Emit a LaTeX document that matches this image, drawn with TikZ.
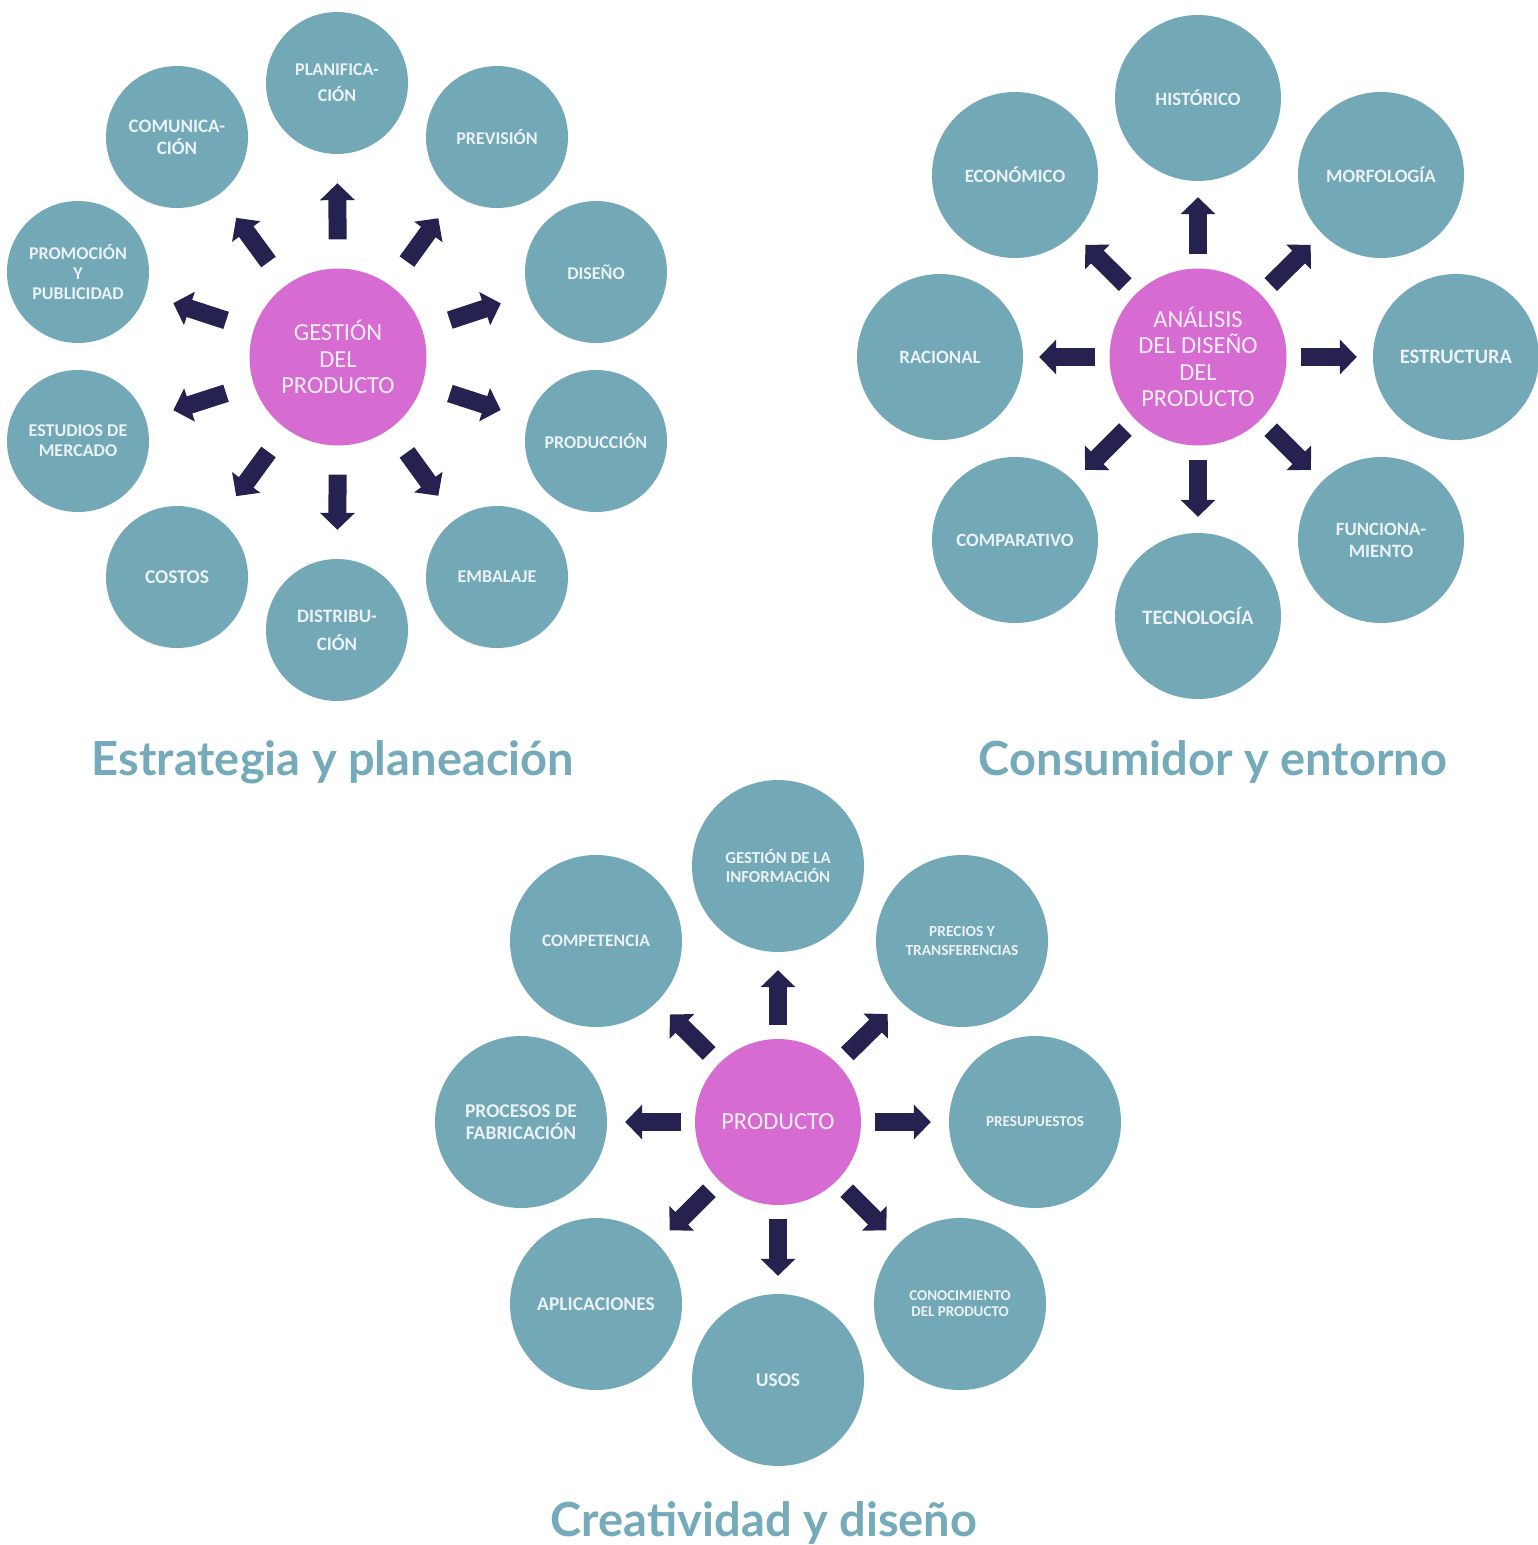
\documentclass[tikz,border=0pt]{standalone}
\usepackage{fontspec}
\setmainfont{Carlito}
\newfontfamily\titlefont{Lato}
\usetikzlibrary{arrows.meta}
\definecolor{tealc}{HTML}{73A8B7}
\definecolor{magc}{HTML}{D66CD2}
\definecolor{navyc}{HTML}{26224F}
\definecolor{outtext}{HTML}{EAF2F5}
\definecolor{ctrtext}{HTML}{F8ECF8}
\definecolor{titlec}{HTML}{74AAB9}
\newcommand\fsz[2]{\fontsize{#1}{#2}\selectfont}
\begin{document}
\begin{tikzpicture}[x=1pt,y=-1pt,
  outer/.style={circle, fill=tealc, text=outtext, inner sep=0pt, align=center, minimum size=#1},
  ctr/.style={circle, fill=magc, text=ctrtext, inner sep=0pt, align=center, minimum size=#1, font=\fsz{24.5}{26.5}},
  bigarrow/.style={draw=navyc, line width=18pt, -{Triangle[length=17pt,width=34pt]}},
  ttl/.style={anchor=base, text=titlec, font=\titlefont\bfseries\fsz{47}{52}}
]
\path[use as bounding box, fill=white] (0,0) rectangle (1537,1545);

% ---------- Diagram 1 ----------
\node[ctr=177] (g) at (338,357) {GESTIÓN\\DEL\\PRODUCTO};
\begin{scope}[every node/.append style={outer=142, font=\bfseries\fsz{18}{20}}]
\node[font=\bfseries\fsz{18}{26}] (a1) at (337,83) {PLANIFICA-\\CIÓN};
\node (a2) at (497,137) {PREVISIÓN};
\node (a3) at (596,272) {DISEÑO};
\node (a4) at (596,441) {PRODUCCIÓN};
\node (a5) at (497,577) {EMBALAJE};
\node[font=\bfseries\fsz{19}{28}] (a6) at (337,630) {DISTRIBU-\\CIÓN};
\node[font=\bfseries\fsz{19.5}{22}] (a7) at (177,577) {COSTOS};
\node (a8) at (78,441) {ESTUDIOS DE\\MERCADO};
\node (a9) at (78,272) {PROMOCIÓN\\Y\\PUBLICIDAD};
\node[font=\bfseries\fsz{19}{22}] (a10) at (177,137) {COMUNICA-\\CIÓN};
\end{scope}
\foreach \i in {1,...,10}
  \draw[bigarrow, shorten <=29pt, shorten >=29pt] (g) -- (a\i);
\node[ttl] (t1) at (333,775) {Estrategia y planeación};

% ---------- Diagram 2 ----------
\node[ctr=177] (d) at (1198,357) {ANÁLISIS\\DEL DISEÑO\\DEL\\PRODUCTO};
\begin{scope}[every node/.append style={outer=166, font=\bfseries\fsz{18.8}{22}}]
\node (b1) at (1198,98) {HISTÓRICO};
\node (b2) at (1381,175) {MORFOLOGÍA};
\node[font=\bfseries\fsz{20.5}{22}] (b3) at (1456,357) {ESTRUCTURA};
\node (b4) at (1381,540) {FUNCIONA-\\MIENTO};
\node[font=\bfseries\fsz{20.5}{22}] (b5) at (1198,616) {TECNOLOGÍA};
\node (b6) at (1015,540) {COMPARATIVO};
\node (b7) at (940,357) {RACIONAL};
\node (b8) at (1015,175) {ECONÓMICO};
\end{scope}
\foreach \i in {1,...,8}
  \draw[bigarrow, shorten <=14pt, shorten >=16pt] (d) -- (b\i);
\node[ttl] (t2) at (1213,775) {Consumidor y entorno};

% ---------- Diagram 3 ----------
\node[ctr=166] (p) at (778,1122) {PRODUCTO};
\begin{scope}[every node/.append style={outer=172, font=\bfseries\fsz{19.5}{22}}]
\node[font=\bfseries\fsz{16.8}{19}] (c1) at (778,866) {GESTIÓN DE LA\\INFORMACIÓN};
\node[font=\bfseries\fsz{15.4}{19}] (c2) at (962,941) {PRECIOS Y\\TRANSFERENCIAS};
\node[font=\bfseries\fsz{15.2}{18}] (c3) at (1035,1122) {PRESUPUESTOS};
\node[font=\bfseries\fsz{15}{16}] (c4) at (960,1304) {CONOCIMIENTO\\DEL PRODUCTO};
\node (c5) at (778,1380) {USOS};
\node (c6) at (596,1304) {APLICACIONES};
\node (c7) at (521,1122) {PROCESOS DE\\FABRICACIÓN};
\node[font=\bfseries\fsz{17.6}{22}] (c8) at (596,941) {COMPETENCIA};
\end{scope}
\foreach \i in {1,...,8}
  \draw[bigarrow, shorten <=14pt, shorten >=18pt] (p) -- (c\i);
\node[ttl] (t3) at (764,1536) {Creatividad y diseño};
\end{tikzpicture}
\end{document}
